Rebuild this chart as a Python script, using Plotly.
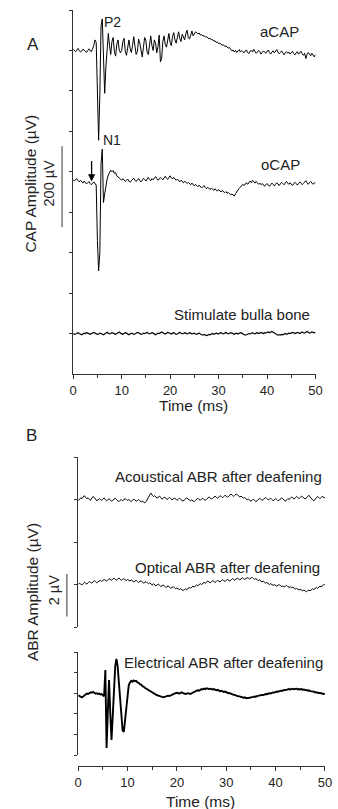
import plotly.graph_objects as go

W, H = 338, 809
T_STEP = 0.25

# ---------------- Panel A data (µV, offset baselines) ----------------
acap = [
    803, 799, 797, 801, 805, 800, 796, 798, 803, 801, 797, 795, 800, 804, 799, 797, 804, 812, 826, 820,
    700, 578, 690, 860, 878, 780, 694, 760, 815, 842, 812, 790, 822, 832, 798, 786, 815, 826, 802, 794,
    800, 822, 830, 798, 788, 815, 826, 805, 795, 812, 834, 810, 790, 798, 828, 818, 800, 784, 808, 832,
    825, 796, 790, 822, 836, 812, 800, 826, 818, 794, 810, 838, 772, 780, 822, 836, 815, 808, 830, 842,
    820, 812, 835, 844, 826, 818, 832, 846, 830, 822, 840, 834, 826, 842, 850, 832, 828, 838, 848, 836,
    840, 846, 844, 841, 843, 838, 839, 836, 837, 833, 834, 831, 829, 830, 826, 827, 823, 824, 820, 821,
    817, 818, 815, 813, 814, 810, 811, 808, 806, 807, 803, 799, 801, 796, 800, 795, 799, 802, 796, 800,
    797, 794, 799, 801, 795, 792, 798, 800, 796, 803, 798, 793, 796, 800, 797, 791, 795, 799, 796, 793,
    798, 801, 795, 791, 796, 799, 794, 797, 802, 796, 792, 795, 799, 794, 789, 794, 797, 793, 796, 791,
    795, 798, 792, 789, 794, 797, 791, 795, 798, 792, 788, 793, 780, 790, 795, 791, 787, 793, 789, 784,
    790,
]
ocap = [
    480, 477, 481, 483, 478, 475, 479, 476, 472, 477, 474, 470, 473, 476, 471, 468, 472, 475, 470, 468,
    330, 255, 300, 520, 556, 424, 445, 470, 482, 492, 498, 504, 500, 503, 496, 498, 490, 488, 485, 482,
    479, 483, 480, 476, 479, 482, 477, 474, 478, 481, 484, 479, 476, 480, 483, 478, 475, 479, 484, 481,
    477, 482, 486, 481, 478, 483, 480, 484, 488, 483, 479, 482, 486, 483, 480, 485, 489, 484, 481, 486,
    490, 485, 482, 486, 483, 479, 482, 478, 475, 479, 476, 473, 477, 474, 471, 474, 470, 468, 472, 469,
    465, 469, 466, 463, 467, 464, 460, 463, 466, 461, 458, 462, 459, 456, 460, 457, 454, 458, 455, 452,
    456, 453, 450, 454, 451, 448, 451, 447, 449, 446, 443, 445, 442, 440, 446, 451, 455, 459, 462, 466,
    469, 466, 470, 473, 469, 474, 477, 473, 479, 476, 472, 476, 473, 469, 472, 468, 471, 467, 464, 468,
    471, 467, 464, 468, 472, 469, 465, 469, 473, 470, 466, 470, 474, 471, 468, 472, 476, 472, 469, 473,
    470, 466, 470, 474, 471, 467, 471, 475, 472, 468, 471, 475, 478, 473, 469, 473, 476, 472, 469, 473,
    472,
]
bulla = [
    100, 98, 99, 101, 102, 100, 98, 97, 99, 101, 100, 102, 101, 99, 98, 100, 102, 103, 101, 99,
    98, 99, 101, 100, 98, 97, 99, 101, 103, 101, 99, 100, 102, 101, 99, 98, 100, 102, 104, 101,
    99, 98, 100, 102, 101, 99, 97, 99, 101, 100, 98, 99, 101, 103, 102, 100, 98, 99, 101, 100,
    102, 103, 101, 99, 100, 102, 101, 98, 97, 99, 101, 100, 102, 104, 102, 100, 99, 101, 103, 102,
    100, 99, 101, 102, 100, 98, 99, 101, 103, 101, 99, 100, 102, 101, 99, 100, 102, 101, 99, 100,
    101, 99, 98, 100, 101, 99, 97, 96, 98, 97, 95, 96, 98, 97, 99, 100, 98, 99, 101, 100,
    99, 101, 102, 100, 99, 101, 103, 101, 99, 100, 102, 101, 99, 98, 100, 101, 99, 100, 102, 101,
    99, 97, 96, 97, 99, 100, 99, 101, 102, 100, 99, 101, 102, 100, 101, 103, 101, 100, 102, 101,
    103, 104, 102, 103, 105, 103, 101, 99, 97, 96, 97, 96, 98, 97, 99, 100, 98, 99, 101, 100,
    101, 103, 102, 100, 101, 103, 102, 100, 102, 104, 102, 101, 103, 105, 103, 101, 102, 104, 103, 102,
    103,
]

# ---------------- Panel B data (µV, offset baselines) ----------------
abr_acoustic = [
    5.94, 6.02, 6.08, 6.04, 6.12, 6.18, 6.1, 6.04, 6.08, 6.0, 5.96, 6.06, 6.14, 6.1, 6.02, 5.94, 5.98, 6.04, 6.0, 5.96,
    6.02, 6.08, 6.0, 5.94, 5.98, 6.04, 5.98, 5.92, 5.96, 6.02, 6.06, 6.0, 5.94, 5.9, 5.96, 6.0, 5.94, 5.98, 6.04, 6.0,
    5.96, 6.0, 5.94, 5.9, 5.96, 6.02, 5.98, 5.92, 5.95, 6.0, 5.94, 5.88, 5.92, 5.86, 5.84, 5.9, 5.98, 6.1, 6.22, 6.3,
    6.2, 6.14, 6.18, 6.1, 6.06, 6.12, 6.16, 6.08, 6.02, 6.06, 6.12, 6.06, 6.0, 6.04, 6.1, 6.04, 5.98, 6.02, 6.08, 6.02,
    5.96, 6.0, 6.06, 6.02, 5.96, 5.92, 5.98, 6.04, 6.08, 6.02, 5.98, 5.94, 5.98, 5.92, 5.9, 5.96, 6.02, 6.06, 6.0, 5.96,
    6.02, 6.06, 6.0, 5.96, 6.0, 6.06, 6.12, 6.08, 6.02, 6.06, 6.12, 6.16, 6.1, 6.06, 6.12, 6.18, 6.14, 6.08, 6.14, 6.2,
    6.16, 6.1, 6.16, 6.22, 6.26, 6.2, 6.14, 6.2, 6.26, 6.22, 6.16, 6.12, 6.16, 6.1, 6.06, 6.1, 6.04, 5.98, 6.02, 5.96,
    5.92, 5.96, 6.02, 5.96, 5.9, 5.94, 6.0, 6.06, 6.02, 5.96, 6.0, 6.06, 6.1, 6.04, 5.98, 6.02, 6.06, 6.0, 5.94, 5.98,
    6.04, 6.0, 5.94, 5.98, 6.04, 6.08, 6.02, 5.96, 5.92, 5.98, 6.04, 6.0, 6.06, 6.12, 6.08, 6.02, 6.08, 6.14, 6.1, 6.04,
    6.1, 6.16, 6.12, 6.06, 6.02, 6.08, 6.16, 6.2, 6.12, 6.04, 5.98, 5.94, 6.0, 6.08, 6.14, 6.1, 6.04, 6.1, 6.16, 6.08,
    6.1,
]
abr_optical = [
    2.0, 2.06, 2.02, 1.98, 2.04, 2.1, 2.06, 2.02, 2.08, 2.14, 2.1, 2.06, 2.12, 2.18, 2.14, 2.08, 2.12, 2.18, 2.2, 2.14,
    2.18, 2.24, 2.2, 2.16, 2.22, 2.28, 2.24, 2.2, 2.26, 2.3, 2.24, 2.2, 2.26, 2.3, 2.26, 2.2, 2.24, 2.28, 2.22, 2.18,
    2.24, 2.2, 2.16, 2.22, 2.18, 2.12, 2.16, 2.2, 2.14, 2.1, 2.14, 2.18, 2.12, 2.06, 2.1, 2.14, 2.08, 2.04, 2.08, 2.02,
    1.98, 2.04, 2.0, 1.94, 1.98, 2.02, 1.96, 1.9, 1.94, 1.98, 1.92, 1.86, 1.9, 1.94, 1.88, 1.82, 1.86, 1.9, 1.84, 1.8,
    1.84, 1.8, 1.76, 1.8, 1.74, 1.72, 1.76, 1.8, 1.76, 1.8, 1.86, 1.82, 1.86, 1.92, 1.88, 1.92, 1.98, 1.94, 1.98, 2.04,
    2.0, 2.04, 2.1, 2.06, 2.1, 2.16, 2.12, 2.08, 2.12, 2.18, 2.14, 2.1, 2.14, 2.2, 2.16, 2.12, 2.18, 2.22, 2.18, 2.14,
    2.2, 2.24, 2.2, 2.16, 2.22, 2.28, 2.24, 2.2, 2.26, 2.3, 2.26, 2.22, 2.26, 2.32, 2.28, 2.24, 2.28, 2.32, 2.3, 2.26,
    2.3, 2.34, 2.28, 2.24, 2.28, 2.22, 2.18, 2.22, 2.16, 2.12, 2.16, 2.1, 2.06, 2.1, 2.04, 2.0, 2.04, 2.0, 1.96, 2.0,
    1.96, 1.92, 1.96, 2.0, 1.94, 1.9, 1.94, 1.88, 1.92, 1.96, 1.9, 1.86, 1.9, 1.84, 1.88, 1.82, 1.78, 1.82, 1.78, 1.74,
    1.78, 1.74, 1.7, 1.74, 1.7, 1.66, 1.7, 1.74, 1.7, 1.76, 1.8, 1.76, 1.82, 1.86, 1.82, 1.88, 1.92, 1.88, 1.94, 2.0,
    1.98,
]
abr_electric = [
    2.9, 2.86, 2.82, 2.8, 2.84, 2.88, 2.94, 2.98, 2.96, 3.0, 3.04, 3.02, 3.06, 3.02, 2.98, 3.0, 2.96, 2.98, 2.94, 2.96,
    2.92, 2.85, 4.13, 0.34, 2.1, 3.64, 2.0, 0.73, 1.9, 3.3, 4.3, 4.66, 4.3, 3.5, 2.6, 1.8, 1.2, 1.12, 1.7, 2.5,
    3.1, 3.4, 3.52, 3.6, 3.56, 3.62, 3.58, 3.6, 3.52, 3.5, 3.44, 3.42, 3.34, 3.32, 3.26, 3.22, 3.18, 3.14, 3.1, 3.08,
    3.04, 3.0, 2.96, 2.94, 2.9, 2.88, 2.86, 2.84, 2.82, 2.8, 2.82, 2.84, 2.86, 2.88, 2.86, 2.9, 2.92, 2.96, 2.98, 3.0,
    3.02, 3.0, 2.98, 3.02, 3.04, 3.0, 2.98, 2.96, 2.98, 3.0, 2.98, 2.96, 3.0, 3.04, 3.06, 3.08, 3.12, 3.14, 3.12, 3.16,
    3.2, 3.18, 3.22, 3.2, 3.24, 3.22, 3.2, 3.22, 3.2, 3.18, 3.2, 3.16, 3.14, 3.16, 3.12, 3.1, 3.12, 3.08, 3.06, 3.08,
    3.04, 3.02, 3.0, 3.0, 2.96, 2.94, 2.92, 2.92, 2.88, 2.86, 2.86, 2.84, 2.82, 2.8, 2.78, 2.8, 2.76, 2.77, 2.76, 2.78,
    2.8, 2.8, 2.82, 2.84, 2.83, 2.86, 2.88, 2.88, 2.9, 2.92, 2.91, 2.94, 2.96, 2.95, 2.98, 3.0, 2.99, 3.02, 3.04, 3.03,
    3.06, 3.08, 3.07, 3.1, 3.12, 3.11, 3.14, 3.16, 3.15, 3.18, 3.17, 3.2, 3.18, 3.2, 3.22, 3.19, 3.2, 3.22, 3.18, 3.2,
    3.18, 3.2, 3.17, 3.18, 3.15, 3.16, 3.12, 3.14, 3.1, 3.1, 3.07, 3.08, 3.04, 3.05, 3.02, 3.02, 2.99, 3.0, 2.97, 2.98,
    2.96,
]

x_ticks = [0, 10, 20, 30, 40, 50]
yA_ticks = [100, 200, 300, 400, 500, 600, 700, 800, 900]
yB_up_ticks = [0, 2, 4, 6, 8]
yB_lo_ticks = [0, 1, 2, 3, 4, 5]
scaleA = (363, 563)      # 200 µV bar
scaleB = (0.5, 2.5)      # 2 µV bar
arrow_t, arrow_v = 3.8, 476


def times(vals):
    return [i * T_STEP for i in range(len(vals))]


def px(x):
    return x / W


def py(y):
    return 1 - y / H


FONT = "Arial, Liberation Sans, sans-serif"
TXT = "#222222"
AX = "#333333"

fig = go.Figure()
line_thin = dict(color="black", width=1)
fig.add_trace(go.Scatter(x=times(acap), y=acap, mode="lines", line=line_thin, xaxis="x", yaxis="y"))
fig.add_trace(go.Scatter(x=times(ocap), y=ocap, mode="lines", line=line_thin, xaxis="x", yaxis="y"))
fig.add_trace(go.Scatter(x=times(bulla), y=bulla, mode="lines", line=dict(color="black", width=1.2), xaxis="x", yaxis="y"))
fig.add_trace(go.Scatter(x=times(abr_acoustic), y=abr_acoustic, mode="lines", line=line_thin, xaxis="x2", yaxis="y2"))
fig.add_trace(go.Scatter(x=times(abr_optical), y=abr_optical, mode="lines", line=line_thin, xaxis="x2", yaxis="y2"))
fig.add_trace(go.Scatter(x=times(abr_electric), y=abr_electric, mode="lines", line=dict(color="black", width=1.9), xaxis="x2", yaxis="y3"))

xcommon = dict(range=[0, 50], tickvals=x_ticks, ticks="outside", ticklen=4, tickwidth=1,
               tickcolor=AX, showline=True, linecolor=AX, linewidth=1, showgrid=False,
               zeroline=False, tickfont=dict(family=FONT, size=13, color=TXT),
               minor=dict(dtick=5, tick0=0, ticks="outside", ticklen=2.5, tickcolor=AX, showgrid=False))
ycommon = dict(ticks="outside", ticklen=3.5, tickwidth=1, tickcolor=AX, showline=True,
               linecolor=AX, linewidth=1, showgrid=False, zeroline=False, showticklabels=False)

fig.update_layout(
    width=W, height=H, margin=dict(l=0, r=0, t=0, b=0),
    paper_bgcolor="white", plot_bgcolor="white", showlegend=False,
    xaxis=dict(domain=[px(71.5), px(322)], anchor="y", **xcommon),
    yaxis=dict(domain=[py(374), py(10)], anchor="x", range=[0, 900], tickvals=yA_ticks, **ycommon),
    xaxis2=dict(domain=[px(76.7), px(331.7)], anchor="free", position=py(766), **xcommon),
    yaxis2=dict(domain=[py(627), py(457)], anchor="x2", range=[0, 8], tickvals=yB_up_ticks, **ycommon),
    yaxis3=dict(domain=[py(755), py(652)], anchor="x2", range=[0, 5], tickvals=yB_lo_ticks, **ycommon),
)

# scale bars
fig.add_shape(type="line", xref="paper", yref="y", x0=px(60), x1=px(60), y0=scaleA[0], y1=scaleA[1],
              line=dict(color="#555555", width=1.2))
fig.add_shape(type="line", xref="paper", yref="y2", x0=px(65), x1=px(65), y0=scaleB[0], y1=scaleB[1],
              line=dict(color="#555555", width=1.2))


def label(text, x, y, size=15, angle=0, color=TXT):
    fig.add_annotation(text=text, xref="paper", yref="paper", x=px(x), y=py(y), showarrow=False,
                       xanchor="center", yanchor="middle", textangle=angle,
                       font=dict(family=FONT, size=size, color=color))


label("A", 29.5, 44, size=17)
label("B", 28, 435, size=17)
label("aCAP", 284.5, 32)
label("oCAP", 285.5, 164)
label("P2", 112, 22, size=14)
label("N1", 112, 140, size=14)
label("Stimulate bulla bone", 246, 314)
label("Acoustical ABR after deafening", 221.5, 476)
label("Optical ABR after deafening", 231.5, 567.5)
label("Electrical ABR after deafening", 227, 662.5)
label("CAP Amplitude (µV)", 27, 183.5, size=15.5, angle=-90)
label("200 µV", 47, 183, size=14.5, angle=-90)
label("ABR Amplitude (µV)", 29, 592, size=15.5, angle=-90)
label("2 µV", 52, 590, size=14.5, angle=-90)
label("Time (ms)", 196, 406, size=15.5)
label("Time (ms)", 203.5, 801, size=15.5)

# stimulus arrow on the oCAP trace
fig.add_annotation(x=arrow_t, y=arrow_v, xref="x", yref="y", text="", showarrow=True,
                   ax=0, ay=-22, arrowhead=2, arrowsize=1.1, arrowwidth=1.3, arrowcolor="black")

fig.write_html("out.html")
